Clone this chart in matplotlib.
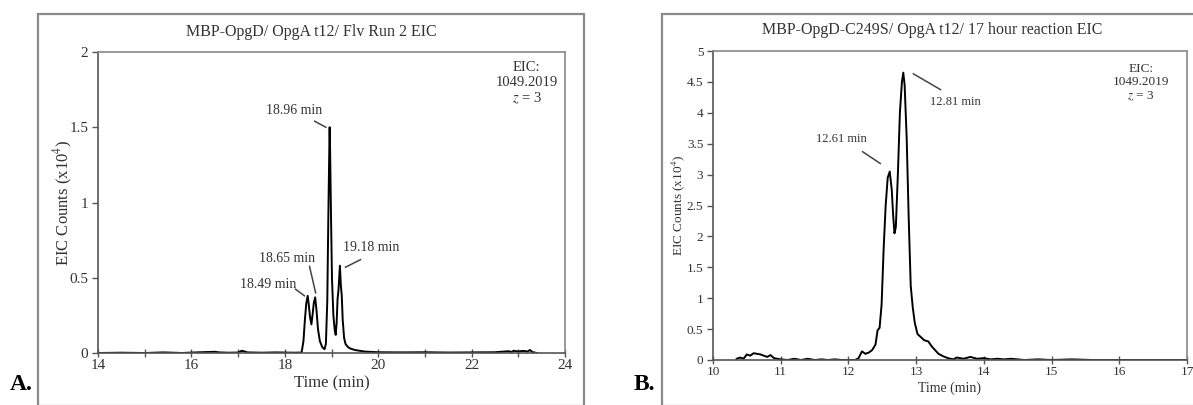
import matplotlib
matplotlib.use("Agg")
import matplotlib.pyplot as plt
from matplotlib.patches import Rectangle

# ---------------- data ----------------
# Panel A: MBP-OpgD/ OpgA t12/ Flv Run 2 EIC  (counts x10^4)
time_a = [14.0, 14.5, 15.0, 15.4, 15.8, 16.0, 16.3, 16.5, 16.6, 16.8, 17.0, 17.08, 17.12,
          17.2, 17.5, 17.8, 18.0, 18.2, 18.36, 18.4, 18.43, 18.46, 18.49, 18.51, 18.54,
          18.57, 18.6, 18.62, 18.65, 18.68, 18.71, 18.75, 18.8, 18.85, 18.88, 18.91,
          18.93, 18.95, 18.96, 18.97, 18.99, 19.01, 19.04, 19.07, 19.09, 19.11, 19.13,
          19.15, 19.18, 19.2, 19.22, 19.24, 19.27, 19.3, 19.35, 19.4, 19.5, 19.6, 19.7,
          19.8, 20.0, 20.5, 21.0, 21.5, 22.0, 22.5, 22.8, 22.85, 22.9, 23.0, 23.1,
          23.2, 23.25, 23.3, 23.4]
counts_a = [0.0, 0.002, 0.0, 0.004, 0.0, 0.003, 0.006, 0.008, 0.004, 0.002, 0.003, 0.015, 0.012,
            0.004, 0.002, 0.004, 0.003, 0.002, 0.003, 0.08, 0.22, 0.33, 0.38, 0.33, 0.24,
            0.19, 0.27, 0.33, 0.37, 0.28, 0.16, 0.08, 0.04, 0.025, 0.06, 0.35,
            0.85, 1.3, 1.5, 1.35, 0.9, 0.5, 0.25, 0.15, 0.12, 0.2, 0.36,
            0.42, 0.58, 0.45, 0.38, 0.22, 0.1, 0.06, 0.04, 0.03, 0.02, 0.015, 0.01,
            0.008, 0.005, 0.004, 0.005, 0.003, 0.004, 0.005, 0.012, 0.006, 0.015, 0.01, 0.014,
            0.01, 0.02, 0.006, 0.0]

# Panel B: MBP-OpgD-C249S/ OpgA t12/ 17 hour reaction EIC (counts x10^4)
time_b = [10.35, 10.4, 10.45, 10.5, 10.55, 10.6, 10.65, 10.7, 10.75, 10.8, 10.85, 10.9,
          10.95, 11.0, 11.1, 11.2, 11.3, 11.4, 11.5, 11.6, 11.7, 11.8, 11.9, 12.0, 12.1,
          12.15, 12.2, 12.25, 12.3, 12.35, 12.4, 12.43, 12.46, 12.49, 12.52, 12.55, 12.58,
          12.61, 12.64, 12.66, 12.68, 12.7, 12.73, 12.76, 12.79, 12.81, 12.83, 12.86,
          12.89, 12.92, 12.95, 12.98, 13.02, 13.07, 13.12, 13.18, 13.23, 13.28, 13.33,
          13.4, 13.47, 13.55, 13.6, 13.7, 13.8, 13.9, 14.0, 14.1, 14.2, 14.3, 14.4, 14.6,
          14.8, 15.0, 15.3, 15.6, 16.0, 16.4, 17.0]
counts_b = [0.02, 0.04, 0.02, 0.09, 0.07, 0.11, 0.1, 0.09, 0.07, 0.05, 0.08, 0.03,
            0.02, 0.01, 0.0, 0.02, 0.0, 0.02, 0.0, 0.01, 0.0, 0.01, 0.0, 0.0, 0.0,
            0.03, 0.14, 0.1, 0.12, 0.16, 0.25, 0.48, 0.52, 0.9, 1.8, 2.5, 2.95,
            3.05, 2.75, 2.35, 2.05, 2.15, 3.0, 4.0, 4.5, 4.65, 4.45, 3.6,
            2.3, 1.2, 0.85, 0.6, 0.42, 0.37, 0.32, 0.3, 0.22, 0.16, 0.1,
            0.06, 0.03, 0.01, 0.04, 0.02, 0.05, 0.02, 0.03, 0.01, 0.02, 0.01, 0.02, 0.0,
            0.01, 0.0, 0.01, 0.0, 0.0, 0.0, 0.0]

title_a = "MBP-OpgD/ OpgA t12/ Flv Run 2 EIC"
title_b = "MBP-OpgD-C249S/ OpgA t12/ 17 hour reaction EIC"
peaks_a = [("18.96 min", 18.96), ("18.65 min", 18.65), ("18.49 min", 18.49), ("19.18 min", 19.18)]
peaks_b = [("12.81 min", 12.81), ("12.61 min", 12.61)]
xticks_a = [14, 16, 18, 20, 22, 24]
yticks_a = [0, 0.5, 1, 1.5, 2]
xticks_b = [10, 11, 12, 13, 14, 15, 16, 17]
yticks_b = [0, 0.5, 1, 1.5, 2, 2.5, 3, 3.5, 4, 4.5, 5]

# ---------------- style ----------------
plt.rcParams['font.family'] = ['Liberation Serif', 'DejaVu Serif']
plt.rcParams['mathtext.fontset'] = 'stix'
TXT = '#333333'
SPINE = '#555555'

W, H = 1193, 405
fig = plt.figure(figsize=(W / 100, H / 100), dpi=100)

def fx(px):
    return px / W

def fy(py):
    return 1 - py / H

# outer frames (chart areas)
for (l, r) in [(38, 584), (662, 1200)]:
    fig.patches.append(Rectangle((fx(l), fy(406)), fx(r) - fx(l), fy(14) - fy(406),
                                 transform=fig.transFigure, fill=False,
                                 edgecolor='#8a8a8a', lw=1.6, clip_on=False))

# ---------- Panel A ----------
axA = fig.add_axes([fx(98), fy(353), fx(565) - fx(98), fy(52) - fy(353)])
axA.plot(time_a, counts_a, color='black', lw=1.4)
axA.set_xlim(14, 24)
axA.set_ylim(0, 2)
axA.set_xticks(xticks_a)
axA.set_xticklabels([str(v) for v in xticks_a])
axA.set_xticks([15, 17, 19, 21, 23], minor=True)
axA.set_yticks(yticks_a)
axA.set_yticklabels(['0', '0.5', '1', '1.5', '2'])
axA.tick_params(axis='x', which='both', direction='inout', length=6, width=1, colors=SPINE,
                labelcolor=TXT, labelsize=11, pad=1)
axA.tick_params(axis='y', direction='out', length=4, width=1, colors=SPINE,
                labelcolor=TXT, labelsize=11, pad=3)
for s in axA.spines.values():
    s.set_color(SPINE)
    s.set_linewidth(1.2)
axA.spines['top'].set_color('#888888')
axA.spines['right'].set_color('#888888')
axA.set_xlabel('Time (min)', fontsize=12, color=TXT, labelpad=3)
axA.set_ylabel('EIC Counts (x10$^4$)', fontsize=12, color=TXT, labelpad=-4)
fig.text(fx(311), fy(32), title_a, ha='center', va='center', fontsize=11.5, color=TXT)
fig.text(fx(10), fy(384), 'A.', ha='left', va='center', fontsize=17, fontweight='bold', color='black')

# annotations A (text pos, line start/end in data coords)
ann_a = {
    "18.96 min": ((18.21, 1.61), (18.64, 1.54), (18.88, 1.50)),
    "18.65 min": ((18.04, 0.63), (18.53, 0.575), (18.66, 0.40)),
    "18.49 min": ((17.64, 0.457), (18.23, 0.424), (18.42, 0.38)),
    "19.18 min": ((19.85, 0.70), (19.62, 0.62), (19.30, 0.57)),
}
for lab, pk in peaks_a:
    (tx, ty), p0, p1 = ann_a[lab]
    axA.text(tx, ty, lab, ha='center', va='center', fontsize=10, color=TXT)
    axA.plot([p0[0], p1[0]], [p0[1], p1[1]], color='#444444', lw=1.1)
axA.text(23.18, 1.79, 'EIC:\n1049.2019\n$z$ = 3', ha='center', va='center',
         fontsize=10.5, color=TXT, linespacing=1.15)

# ---------- Panel B ----------
axB = fig.add_axes([fx(713), fy(360), fx(1187) - fx(713), fy(51) - fy(360)])
axB.plot(time_b, counts_b, color='black', lw=1.4)
axB.set_xlim(10, 17)
axB.set_ylim(0, 5)
axB.set_xticks(xticks_b)
axB.set_xticklabels([str(v) for v in xticks_b])
axB.set_yticks(yticks_b)
axB.set_yticklabels(['0', '0.5', '1', '1.5', '2', '2.5', '3', '3.5', '4', '4.5', '5'])
axB.tick_params(axis='x', direction='inout', length=6, width=1, colors=SPINE,
                labelcolor=TXT, labelsize=9.5, pad=1)
axB.tick_params(axis='y', direction='out', length=4, width=1, colors=SPINE,
                labelcolor=TXT, labelsize=9.5, pad=3)
for s in axB.spines.values():
    s.set_color(SPINE)
    s.set_linewidth(1.2)
axB.spines['top'].set_color('#888888')
axB.spines['right'].set_color('#888888')
axB.set_xlabel('Time (min)', fontsize=10, color=TXT, labelpad=3)
axB.set_ylabel('EIC Counts (x10$^4$)', fontsize=9.5, color=TXT, labelpad=0)
fig.text(fx(932), fy(30), title_b, ha='center', va='center', fontsize=11.5, color=TXT)
fig.text(fx(634), fy(384), 'B.', ha='left', va='center', fontsize=17, fontweight='bold', color='black')

ann_b = {
    "12.81 min": ((13.58, 4.18), (12.96, 4.63), (13.36, 4.375)),
    "12.61 min": ((11.90, 3.57), (12.21, 3.37), (12.47, 3.18)),
}
for lab, pk in peaks_b:
    (tx, ty), p0, p1 = ann_b[lab]
    axB.text(tx, ty, lab, ha='center', va='center', fontsize=9, color=TXT)
    axB.plot([p0[0], p1[0]], [p0[1], p1[1]], color='#444444', lw=1.1)
axB.text(16.32, 4.48, 'EIC:\n1049.2019\n$z$ = 3', ha='center', va='center',
         fontsize=9.5, color=TXT, linespacing=1.15)

fig.savefig('out.png', dpi=100)
